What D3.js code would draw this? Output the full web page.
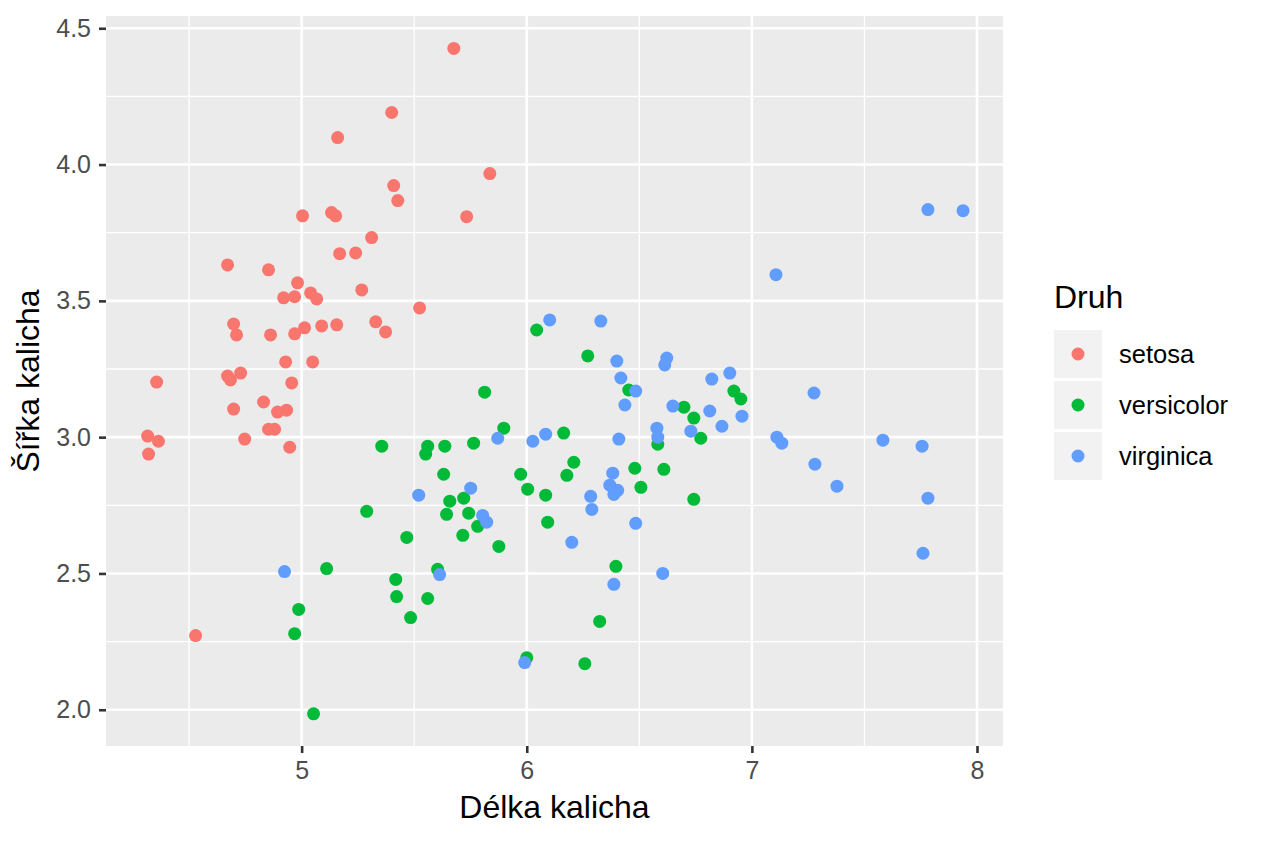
<!DOCTYPE html>
<html>
<head>
<meta charset="utf-8">
<script src="https://cdn.jsdelivr.net/npm/d3@7"></script>
<style>
  body { margin: 0; background: #fff; }
  svg { display: block; font-family: "Liberation Sans", Arial, sans-serif; }
</style>
</head>
<body>
<div id="chart"></div>
<script>
// Druhy a barvy (výchozí paleta ggplot2)
const druhy = ["setosa", "versicolor", "virginica"];
const barvy = ["#F8766D", "#00BA38", "#619CFF"];

// Délka a šířka kalicha (s jitterem)
const setosaDelka = [5.676, 5.400, 5.160, 5.836, 5.409, 5.427, 5.733, 5.004, 5.133, 5.151, 5.311, 5.169, 5.240, 4.671, 4.853, 4.982, 5.267, 5.040, 4.920, 4.969, 5.067, 5.524, 4.698, 4.711, 4.862, 4.969, 5.013, 5.089, 5.156, 5.329, 5.373, 4.929, 5.049, 4.671, 4.684, 4.729, 4.356, 4.956, 4.698, 4.831, 4.893, 4.933, 4.853, 4.880, 4.316, 4.364, 4.320, 4.747, 4.947, 4.529];
const setosaSirka = [4.426, 4.191, 4.099, 3.967, 3.923, 3.868, 3.809, 3.812, 3.824, 3.812, 3.732, 3.673, 3.676, 3.632, 3.614, 3.566, 3.540, 3.529, 3.511, 3.515, 3.507, 3.474, 3.415, 3.375, 3.375, 3.379, 3.401, 3.408, 3.412, 3.423, 3.386, 3.276, 3.276, 3.224, 3.210, 3.235, 3.202, 3.199, 3.103, 3.129, 3.092, 3.099, 3.029, 3.029, 3.004, 2.985, 2.938, 2.993, 2.963, 2.272];

const versicolorDelka = [6.044, 6.271, 5.813, 6.453, 6.698, 6.742, 6.773, 6.920, 6.951, 5.898, 6.164, 5.560, 5.551, 5.636, 5.764, 5.356, 6.209, 6.178, 5.631, 5.973, 6.004, 6.084, 6.480, 6.609, 6.507, 6.582, 5.658, 5.720, 6.742, 5.644, 5.742, 5.782, 5.716, 5.467, 5.876, 6.093, 5.289, 5.111, 5.418, 5.422, 5.604, 5.560, 5.484, 4.987, 4.969, 5.053, 6.396, 6.324, 6.000, 6.258];
const versicolorSirka = [3.393, 3.298, 3.165, 3.173, 3.110, 3.070, 2.996, 3.169, 3.140, 3.033, 3.015, 2.967, 2.938, 2.967, 2.978, 2.967, 2.908, 2.860, 2.864, 2.864, 2.809, 2.787, 2.886, 2.882, 2.816, 2.974, 2.765, 2.776, 2.772, 2.717, 2.721, 2.673, 2.640, 2.632, 2.599, 2.688, 2.728, 2.518, 2.478, 2.415, 2.515, 2.408, 2.338, 2.368, 2.279, 1.985, 2.526, 2.324, 2.191, 2.169];

const virginicaDelka = [6.102, 6.329, 6.400, 6.622, 6.613, 6.418, 6.484, 6.436, 6.649, 6.578, 6.582, 6.729, 5.871, 6.027, 6.084, 6.409, 6.382, 6.369, 6.404, 6.387, 6.284, 5.520, 5.751, 5.804, 5.822, 6.289, 6.484, 6.200, 5.613, 6.387, 6.604, 5.991, 4.924, 7.782, 7.938, 7.107, 6.822, 6.902, 7.276, 6.813, 6.956, 6.867, 7.111, 7.133, 7.582, 7.756, 7.280, 7.378, 7.782, 7.760];
const virginicaSirka = [3.430, 3.426, 3.279, 3.290, 3.265, 3.217, 3.169, 3.118, 3.114, 3.033, 3.000, 3.022, 2.996, 2.985, 3.011, 2.993, 2.868, 2.824, 2.805, 2.790, 2.783, 2.787, 2.813, 2.713, 2.688, 2.735, 2.684, 2.614, 2.496, 2.460, 2.500, 2.173, 2.507, 3.835, 3.831, 3.596, 3.213, 3.235, 3.162, 3.096, 3.077, 3.040, 3.000, 2.978, 2.989, 2.967, 2.901, 2.820, 2.776, 2.574];

// Osy
const xTicks = [5, 6, 7, 8];
const xMinor = [4.5, 5.5, 6.5, 7.5];
const yTicks = [2.0, 2.5, 3.0, 3.5, 4.0, 4.5];
const yMinor = [2.25, 2.75, 3.25, 3.75, 4.25];
const yLabels = ["2.0", "2.5", "3.0", "3.5", "4.0", "4.5"];

const width = 1264;
const height = 843;
const panel = { left: 106, right: 1003, top: 16, bottom: 746 };

const body = [
    { druh: druhy[0], x: setosaDelka, y: setosaSirka },
    { druh: druhy[1], x: versicolorDelka, y: versicolorSirka },
    { druh: druhy[2], x: virginicaDelka, y: virginicaSirka }
].flatMap(s => s.x.map((v, i) => ({ druh: s.druh, x: v, y: s.y[i] })));

const x = d3.scaleLinear().domain([4.131, 8.1155]).range([panel.left, panel.right]);
const y = d3.scaleLinear().domain([1.867, 4.545]).range([panel.bottom, panel.top]);
const color = d3.scaleOrdinal().domain(druhy).range(barvy);

const svg = d3.select("#chart").append("svg")
    .attr("width", width)
    .attr("height", height);

// Pozadí panelu
svg.append("rect")
    .attr("x", panel.left)
    .attr("y", panel.top)
    .attr("width", panel.right - panel.left)
    .attr("height", panel.bottom - panel.top)
    .attr("fill", "#EBEBEB");

// Mřížka - vedlejší a hlavní
const grid = svg.append("g");
grid.selectAll(".xminor").data(xMinor).enter().append("line")
    .attr("x1", d => x(d)).attr("x2", d => x(d))
    .attr("y1", panel.top).attr("y2", panel.bottom)
    .attr("stroke", "#fff").attr("stroke-width", 1.3);
grid.selectAll(".yminor").data(yMinor).enter().append("line")
    .attr("y1", d => y(d)).attr("y2", d => y(d))
    .attr("x1", panel.left).attr("x2", panel.right)
    .attr("stroke", "#fff").attr("stroke-width", 1.3);
grid.selectAll(".xmajor").data(xTicks).enter().append("line")
    .attr("x1", d => x(d)).attr("x2", d => x(d))
    .attr("y1", panel.top).attr("y2", panel.bottom)
    .attr("stroke", "#fff").attr("stroke-width", 2.6);
grid.selectAll(".ymajor").data(yTicks).enter().append("line")
    .attr("y1", d => y(d)).attr("y2", d => y(d))
    .attr("x1", panel.left).attr("x2", panel.right)
    .attr("stroke", "#fff").attr("stroke-width", 2.6);

// Body
svg.append("g").selectAll("circle")
    .data(body)
    .enter()
    .append("circle")
    .attr("cx", d => x(d.x))
    .attr("cy", d => y(d.y))
    .attr("r", 6.5)
    .attr("fill", d => color(d.druh));

// Osa x
const xAxis = svg.append("g")
    .attr("transform", `translate(0, ${panel.bottom})`)
    .call(d3.axisBottom(x).tickValues(xTicks).tickSize(7).tickPadding(8).tickFormat(d3.format("d")));
// Osa y
const yAxis = svg.append("g")
    .attr("transform", `translate(${panel.left}, 0)`)
    .call(d3.axisLeft(y).tickValues(yTicks).tickSize(7).tickPadding(8).tickFormat((d, i) => yLabels[i]));

[xAxis, yAxis].forEach(a => {
    a.select(".domain").remove();
    a.selectAll(".tick line").attr("stroke", "#333333").attr("stroke-width", 2.6);
    a.selectAll(".tick text")
        .attr("fill", "#4D4D4D")
        .style("font-size", "25px")
        .style("font-family", "'Liberation Sans', Arial, sans-serif");
});

// Popisky os
svg.append("text")
    .attr("x", (panel.left + panel.right) / 2)
    .attr("y", 818)
    .attr("text-anchor", "middle")
    .style("font-size", "32px")
    .text("Délka kalicha");

svg.append("text")
    .attr("transform", `translate(39, ${(panel.top + panel.bottom) / 2}) rotate(-90)`)
    .attr("text-anchor", "middle")
    .style("font-size", "32px")
    .text("Šířka kalicha");

// Legenda
const legend = svg.append("g").attr("transform", "translate(1054, 0)");
legend.append("text")
    .attr("x", 0)
    .attr("y", 308)
    .style("font-size", "32px")
    .text("Druh");

const keys = legend.selectAll(".key")
    .data(druhy)
    .enter()
    .append("g")
    .attr("transform", (d, i) => `translate(0, ${330 + i * 51})`);
keys.append("rect")
    .attr("width", 48).attr("height", 48)
    .attr("fill", "#F2F2F2");
keys.append("circle")
    .attr("cx", 24).attr("cy", 24).attr("r", 6.5)
    .attr("fill", d => color(d));
keys.append("text")
    .attr("x", 65).attr("y", 24).attr("dy", "0.35em")
    .style("font-size", "25.5px")
    .text(d => d);
</script>
</body>
</html>
